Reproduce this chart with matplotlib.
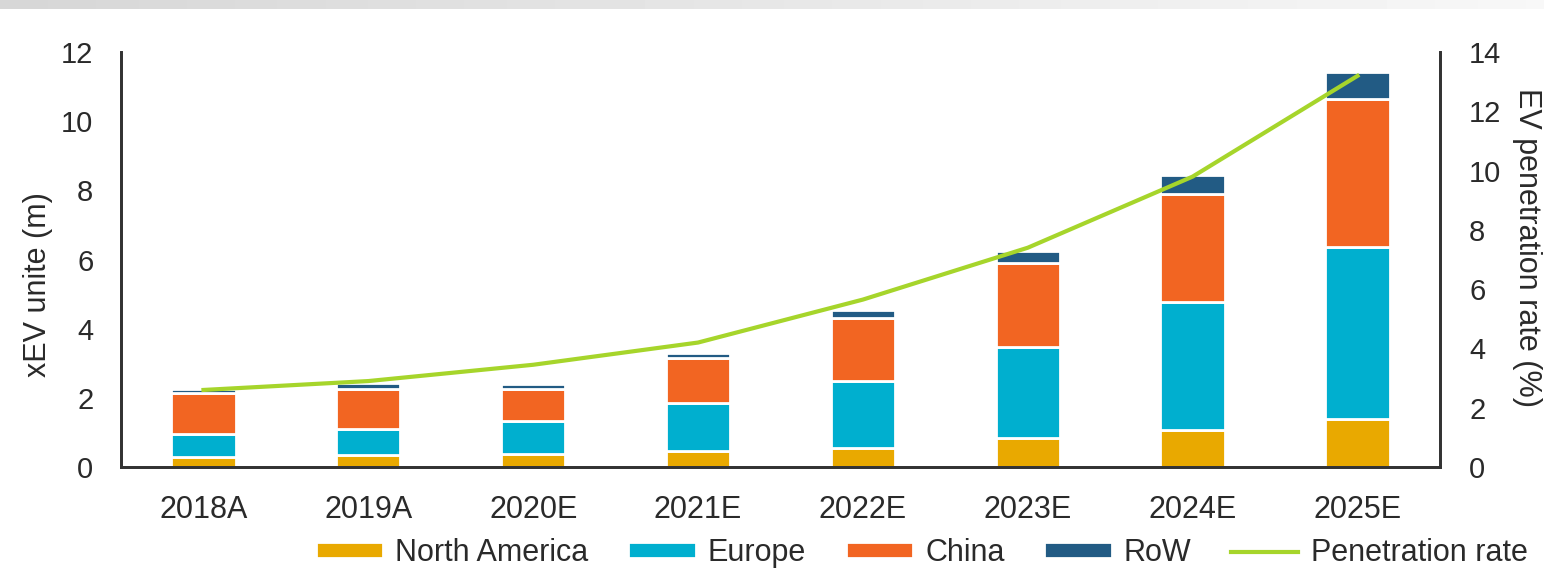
import numpy as np
import matplotlib.pyplot as plt

plt.rcParams['font.family'] = ['Liberation Sans', 'DejaVu Sans']

# xEV sales by region (million units) and EV penetration rate (%)
years = ['2018A', '2019A', '2020E', '2021E', '2022E', '2023E', '2024E', '2025E']
north_america = [0.30, 0.35, 0.38, 0.45, 0.55, 0.84, 1.07, 1.39]
europe = [0.65, 0.75, 0.95, 1.40, 1.95, 2.63, 3.70, 4.97]
china = [1.19, 1.15, 0.92, 1.30, 1.80, 2.43, 3.12, 4.28]
row = [0.12, 0.18, 0.15, 0.15, 0.24, 0.34, 0.55, 0.78]
penetration = [2.6, 2.9, 3.45, 4.2, 5.65, 7.4, 9.8, 13.2]

c_na = '#E9A900'
c_eu = '#00AFCF'
c_cn = '#F26522'
c_row = '#225B84'
c_line = '#A6D52B'

fig = plt.figure(figsize=(15.44, 5.73), dpi=100)

# faded grey strip along the top edge
strip = fig.add_axes([0, 0.984, 1, 0.016])
strip.imshow(np.linspace(0.84, 0.97, 256)[None, :], cmap='gray', vmin=0, vmax=1,
             aspect='auto', extent=(0, 1, 0, 1))
strip.axis('off')

ax = fig.add_axes([0.0784, 0.185, 0.8542, 0.724])
ax2 = ax.twinx()

x = np.arange(len(years))
w = 0.39
bottom = np.zeros(len(years))
for vals, col, lab in [(north_america, c_na, 'North America'),
                       (europe, c_eu, 'Europe'),
                       (china, c_cn, 'China'),
                       (row, c_row, 'RoW')]:
    ax.bar(x, vals, w, bottom=bottom, color=col, edgecolor='white',
           linewidth=2, label=lab, zorder=2)
    bottom += np.array(vals)

ax2.plot(x, penetration, color=c_line, lw=3, label='Penetration rate', zorder=3)

ax.set_xlim(-0.5, 7.5)
ax.set_ylim(0, 12)
ax2.set_ylim(0, 14)
ax.set_yticks(range(0, 13, 2))
ax2.set_yticks(range(0, 15, 2))
ax.set_xticks(x)
ax.set_xticklabels(years)

for a in (ax, ax2):
    a.tick_params(length=0, labelsize=21, colors='#2a2a2a')
    a.spines['top'].set_visible(False)
    for s in ('left', 'right', 'bottom'):
        a.spines[s].set_color('#333333')
        a.spines[s].set_linewidth(2)
ax.tick_params(axis='x', pad=20, labelsize=22)
ax.tick_params(axis='y', pad=20)
ax2.tick_params(axis='y', pad=21)

ax.set_ylabel('xEV unite (m)', fontsize=22, color='#2a2a2a', va='center')
ax.yaxis.set_label_coords(-0.063, 0.44)
ax2.set_ylabel('EV penetration rate (%)', fontsize=22, rotation=270,
               color='#2a2a2a', va='center')
ax2.yaxis.set_label_coords(1.066, 0.528)

h1, l1 = ax.get_legend_handles_labels()
h2, l2 = ax2.get_legend_handles_labels()
fig.legend(h1 + h2, l1 + l2, loc='center', bbox_to_anchor=(0.597, 0.035),
           ncol=5, frameon=False, fontsize=22, handlelength=2.2,
           handleheight=0.4, columnspacing=1.3, handletextpad=0.4,
           labelcolor='#2a2a2a')

fig.savefig('out.png', dpi=100, facecolor='white')
